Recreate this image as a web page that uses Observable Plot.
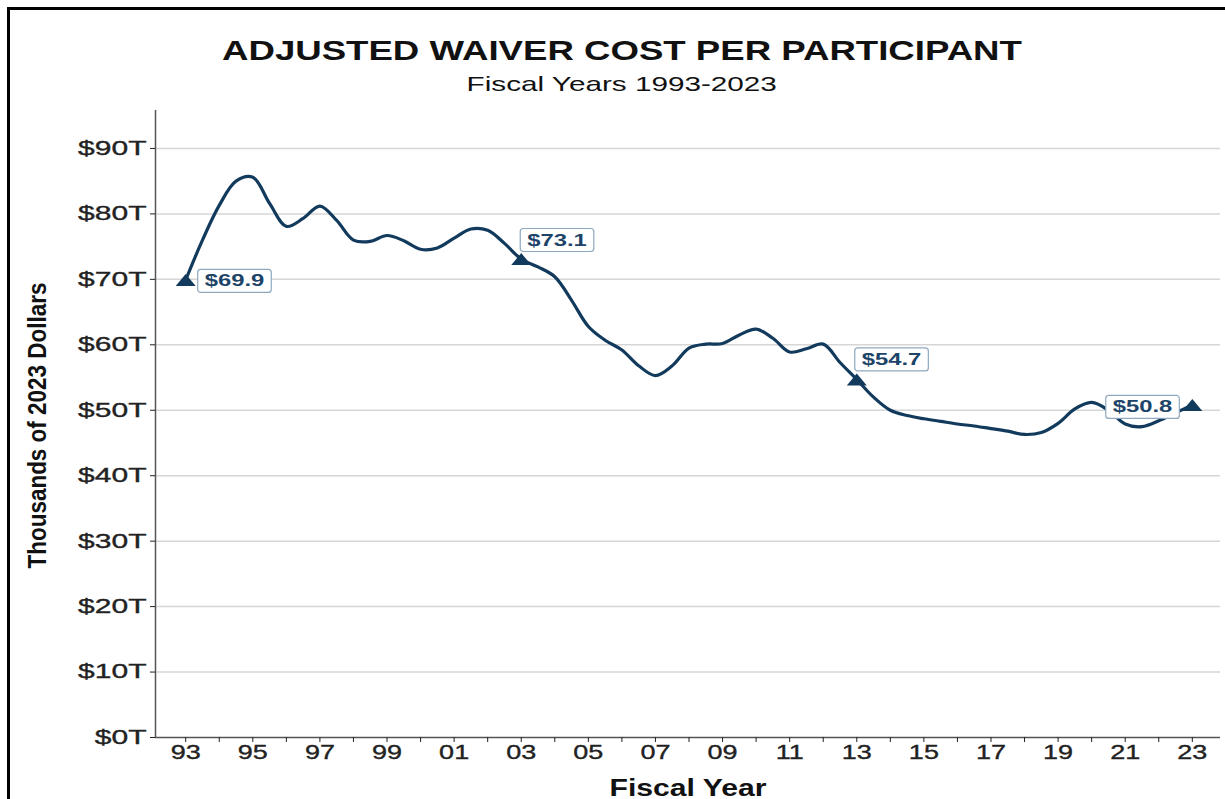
<!DOCTYPE html>
<html><head><meta charset="utf-8">
<script src="https://cdn.jsdelivr.net/npm/d3@7"></script>
<script src="https://cdn.jsdelivr.net/npm/@observablehq/plot@0.6"></script>
<style>
html,body{margin:0;padding:0;background:#fff;width:1225px;height:799px;overflow:hidden;position:relative;font-family:"Liberation Sans",Arial,sans-serif}
#frame{position:absolute;left:7px;top:7px;width:1240px;height:820px;border-left:3px solid #000;border-top:3px solid #000;pointer-events:none;z-index:5}
#head{height:100px;position:relative}
.hl{position:absolute;left:0;width:1244px;text-align:center;color:#111;white-space:nowrap}
.hl span{display:inline-block;transform-origin:50% 50%}
#title{top:37px;font-size:28px;line-height:28px;font-weight:bold}
#subtitle{top:73px;font-size:21px;line-height:21px}
#chart svg{display:block}
</style>
</head><body>
<div id="frame"></div>
<div id="head">
  <div class="hl" id="title"><span>ADJUSTED WAIVER COST PER PARTICIPANT</span></div>
  <div class="hl" id="subtitle"><span>Fiscal Years 1993-2023</span></div>
</div>
<div id="chart"></div>
<script>
// ---- data ----
const fiscalYears = [1993,1993.5,1994,1994.5,1995,1995.5,1996,1996.5,1997,1997.5,1998,1998.5,1999,1999.5,2000,2000.5,2001,2001.5,2002,2002.5,2003,2003.5,2004,2004.5,2005,2005.5,2006,2006.5,2007,2007.5,2008,2008.5,2009,2009.5,2010,2010.5,2011,2011.5,2012,2012.5,2013,2013.5,2014,2014.5,2015,2015.5,2016,2016.5,2017,2017.5,2018,2018.5,2019,2019.5,2020,2020.5,2021,2021.5,2022,2022.5,2023];
const costPerParticipant = [69.9,76.0,81.3,85.0,85.6,81.6,78.1,79.3,81.2,79.0,76.0,75.8,76.7,75.9,74.6,74.8,76.3,77.7,77.5,75.5,73.1,71.9,70.4,66.8,62.8,60.7,59.2,56.8,55.3,56.8,59.5,60.1,60.2,61.5,62.4,61.0,58.9,59.4,60.1,57.3,54.7,52.0,50.0,49.2,48.7,48.3,47.9,47.6,47.2,46.8,46.3,46.6,48.0,50.2,51.2,50.0,47.9,47.5,48.4,49.6,50.8];
const markerYears = [1993,2003,2013,2023];
const markerValues = [69.9,73.1,54.7,50.8];
const yTickValues = [0,10,20,30,40,50,60,70,80,90];
const xTickYears = [1993,1994,1995,1996,1997,1998,1999,2000,2001,2002,2003,2004,2005,2006,2007,2008,2009,2010,2011,2012,2013,2014,2015,2016,2017,2018,2019,2020,2021,2022,2023];
const yAxisTitle = "Thousands of 2023 Dollars";
const xAxisTitle = "Fiscal Year";

// ---- styling / layout ----
const NAVY = "#123a5c";
const LABEL = "#1d4468";
const xDomain = [1992.1, 2023.84];
const yDomain = [0, 95.8];
const labelPlacement = [
  {textAnchor:"start", dx:19, dy:1},
  {textAnchor:"start", dx:6, dy:-19},
  {textAnchor:"start", dx:5, dy:-20},
  {textAnchor:"end", dx:-20, dy:2}
];
const flatTriangle = {draw(ctx){ctx.moveTo(0,-6);ctx.lineTo(10,6);ctx.lineTo(-10,6);ctx.closePath();}};

const series = fiscalYears.map((x,i)=>({x, v: costPerParticipant[i]}));
const markers = markerYears.map((x,i)=>({x, v: markerValues[i]}));

const chart = Plot.plot({
  width: 1225, height: 699,
  marginTop: 10, marginBottom: 62, marginLeft: 155, marginRight: 5,
  style: {fontFamily: '"Liberation Sans", Arial, sans-serif', background: "transparent"},
  x: {domain: xDomain},
  y: {domain: yDomain},
  marks: [
    Plot.gridY(yTickValues.filter(d=>d>0), {stroke:"#d6d6d6", strokeOpacity:1, strokeWidth:1.5}),
    Plot.ruleY([yDomain[0]], {stroke:"#555", strokeWidth:1.5}),
    Plot.ruleX([xDomain[0]], {y1: yDomain[0], y2: yDomain[1], stroke:"#555", strokeWidth:1.5}),
    Plot.axisY(yTickValues, {tickFormat: d=>`$${d}T`, tickSize:5, tickPadding:4, fontSize:20, color:"#222", label:null}),
    Plot.axisX(xTickYears, {tickFormat: d=> d%2===1 ? String(d).slice(2) : "", tickSize:5, tickPadding:2, fontSize:20, color:"#222", label:null}),
    Plot.line(series, {x:"x", y:"v", curve:"catmull-rom", stroke:NAVY, strokeWidth:3.2}),
    Plot.dot(markers, {x:"x", y:"v", symbol: flatTriangle, fill:NAVY, stroke:null}),
    ...markers.map((m,i)=>Plot.text([m], {x:"x", y:"v", text: d=>`$${d.v.toFixed(1)}`, textAnchor: labelPlacement[i].textAnchor, dx: labelPlacement[i].dx, dy: labelPlacement[i].dy, fontSize:17, fontWeight:"bold", fill:LABEL})),
    Plot.text([yAxisTitle], {frameAnchor:"bottom-left", textAnchor:"start", rotate:-90, dx:-117, dy:-169, fontSize:25, fontWeight:"bold", fill:"#111"}),
    Plot.text([xAxisTitle], {frameAnchor:"bottom", dy:58, fontSize:23, fontWeight:"bold", fill:"#111"})
  ]
});
document.getElementById("chart").append(chart);

// ---- post-processing: horizontal stretch of text to match the original look ----
const svgns = "http://www.w3.org/2000/svg";
function stretchEl(t, k, target){
  const w = t.getComputedTextLength();
  t.setAttribute("textLength", target ? target : w*k);
  t.setAttribute("lengthAdjust","spacingAndGlyphs");
}
chart.querySelectorAll("text").forEach(t=>{
  const s = t.textContent;
  const p = t.parentNode.getAttribute("aria-label") || "";
  if (p.includes("y-axis tick label")) { stretchEl(t, 1.5); t.style.stroke="#222"; t.style.strokeWidth="0.35"; }
  else if (p.includes("x-axis tick label")) { stretchEl(t, 1.35); t.style.stroke="#222"; t.style.strokeWidth="0.35"; }
  else if (/^\$\d+\.\d$/.test(s)) {
    stretchEl(t, 1.4);
    const bb = t.getBBox();
    const r = document.createElementNS(svgns, "rect");
    r.setAttribute("x", bb.x - 7); r.setAttribute("y", bb.y - 2);
    r.setAttribute("width", bb.width + 14); r.setAttribute("height", bb.height + 4);
    r.setAttribute("rx", 3);
    r.setAttribute("fill", "#fff"); r.setAttribute("stroke", "#8fa9c0"); r.setAttribute("stroke-width", 1.2);
    if (t.getAttribute("transform")) r.setAttribute("transform", t.getAttribute("transform"));
    t.parentNode.insertBefore(r, t);
  }
  else if (s === yAxisTitle) { stretchEl(t, 1, 286); t.setAttribute("dy", "0.3em"); }
  else if (s === xAxisTitle) stretchEl(t, 1, 157);
});
const ts = document.querySelector("#title span");
ts.style.transform = `scaleX(${800/ts.offsetWidth})`;
const ss = document.querySelector("#subtitle span");
ss.style.transform = `scaleX(${311/ss.offsetWidth})`;
</script>
</body></html>
